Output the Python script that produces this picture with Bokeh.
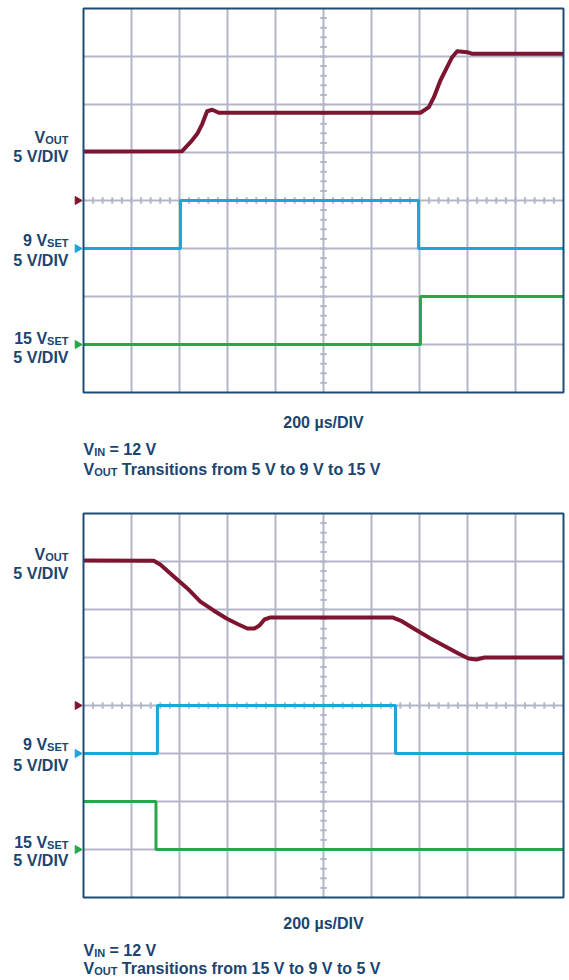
import numpy as np
from bokeh.plotting import figure
from bokeh.layouts import column
from bokeh.models import Range1d
from bokeh.core.properties import value
from bokeh.embed import file_html
from bokeh.resources import INLINE

# ---------------- data (time in µs, voltage in V) ----------------
# Panel 1: VOUT transitions 5 V -> 9 V -> 15 V
top_vout_t = [0, 411, 446, 474, 495, 515, 536, 564, 1396, 1404, 1439, 1460,
              1487, 1515, 1536, 1557, 1599, 1620, 2000]
top_vout_v = [5.1, 5.14, 6.07, 6.95, 7.99, 9.3, 9.45, 9.14, 9.14, 9.14, 9.72,
              10.76, 12.5, 13.9, 14.93, 15.55, 15.45, 15.28, 15.28]
top_9vset_t = [0, 404, 1396, 2000]
top_9vset_v = [0, 5, 0, 0]
top_15vset_t = [0, 1404, 2000]
top_15vset_v = [0, 5, 5]

# Panel 2: VOUT transitions 15 V -> 9 V -> 5 V
bot_vout_t = [0, 293, 321, 376, 432, 487, 542, 596, 646, 683, 712, 733, 754,
              779, 1287, 1321, 1383, 1446, 1508, 1562, 1604, 1637, 1671, 2000]
bot_vout_v = [15.1, 15.07, 14.66, 13.44, 12.22, 10.83, 9.9, 9.06, 8.44, 8.02,
              8.02, 8.33, 8.96, 9.17, 9.17, 8.85, 7.92, 6.98, 6.15, 5.42, 4.9,
              4.79, 5.0, 5.0]
bot_9vset_t = [0, 308, 1300, 2000]
bot_9vset_v = [0, 5, 0, 0]
bot_15vset_t = [0, 302, 2000]
bot_15vset_v = [5, 0, 0]

TIME_PER_DIV = 200      # µs/DIV
VOLT_PER_DIV = 5        # V/DIV
N_XDIV, N_YDIV = 10, 8
# channel ground-marker positions (divisions from bottom of screen)
GND_VOUT, GND_9V, GND_15V = 4, 3, 1

captions_top = ["= 12 V", "Transitions from 5 V to 9 V to 15 V"]
captions_bot = ["= 12 V", "Transitions from 15 V to 9 V to 5 V"]

# ---------------- style ----------------
RED = "#7E1530"
BLUE = "#1CA5D8"
GREEN = "#25A84A"
GRID = "#B3B6C8"
FRAME = "#1E4A73"
TXT = "#1B4470"
FONT = value("Liberation Sans")
FSN = 16
FSSN = 11
FS = f"{FSN}px"
FSS = f"{FSSN}px"

W = 569
FRAME_L = 83          # page px of screen left edge
PXX = 48              # px per horizontal division
PXY = 48              # px per vertical division


def em(s):
    t = {"V": .667, "O": .778, "U": .722, "T": .611, "I": .278, "N": .722,
         "S": .667, "E": .667, " ": .278}
    return sum(t.get(c, .556) for c in s)


def panel(height, fig_top, frame_top, vout_t, vout_v, s9_t, s9_v, s15_t, s15_v,
          lbl, caps, cap_rel):
    x0 = (0 - FRAME_L) / PXX * TIME_PER_DIV
    x1 = (W - FRAME_L) / PXX * TIME_PER_DIV
    ytop = N_YDIV + (frame_top - fig_top) / PXY
    ybot = ytop - height / PXY
    p = figure(width=W, height=height, x_range=Range1d(x0, x1),
               y_range=Range1d(ybot, ytop), output_backend="svg",
               toolbar_location=None, tools="", min_border=0,
               x_axis_location=None, y_axis_location=None)
    p.grid.visible = False
    p.outline_line_color = None
    p.background_fill_color = "white"
    p.border_fill_color = "white"

    tx = lambda px: (px - FRAME_L) / PXX * TIME_PER_DIV
    ty = lambda rel: N_YDIV - rel / PXY
    T = N_XDIV * TIME_PER_DIV

    # grid
    gx = [TIME_PER_DIV * k for k in range(1, N_XDIV)]
    p.segment(x0=gx, y0=[0] * len(gx), x1=gx, y1=[N_YDIV] * len(gx),
              line_color=GRID, line_width=2)
    gy = list(range(1, N_YDIV))
    p.segment(x0=[0] * len(gy), y0=gy, x1=[T] * len(gy), y1=gy,
              line_color=GRID, line_width=2)
    # minor ticks on centre lines
    mx = [TIME_PER_DIV / 5 * k for k in range(1, N_XDIV * 5)]
    hy = 3.2 / PXY
    p.segment(x0=mx, y0=[N_YDIV / 2 - hy] * len(mx), x1=mx,
              y1=[N_YDIV / 2 + hy] * len(mx), line_color=GRID, line_width=2)
    my = [k / 5 for k in range(1, N_YDIV * 5)]
    hx = 3.2 / PXX * TIME_PER_DIV
    p.segment(x0=[T / 2 - hx] * len(my), y0=my, x1=[T / 2 + hx] * len(my),
              y1=my, line_color=GRID, line_width=2)

    # traces
    p.step(x=s15_t, y=[GND_15V + v / VOLT_PER_DIV for v in s15_v], mode="after",
           line_color=GREEN, line_width=3)
    p.step(x=s9_t, y=[GND_9V + v / VOLT_PER_DIV for v in s9_v], mode="after",
           line_color=BLUE, line_width=3)
    p.line(x=vout_t, y=[GND_VOUT + v / VOLT_PER_DIV for v in vout_v],
           line_color=RED, line_width=4, line_join="round")

    # frame
    p.quad(left=[0], right=[T], bottom=[0], top=[N_YDIV], fill_color=None,
           line_color=FRAME, line_width=2)

    # ground markers
    p.scatter(x=[tx(77)] * 3, y=[GND_VOUT, GND_9V, GND_15V],
              color=[RED, BLUE, GREEN], marker="triangle", size=8,
              angle=-np.pi / 2)

    # left labels: (main, sub, rel baseline, rel baseline of 5 V/DIV)
    R = 68
    for main, sub, rb, rb2 in lbl:
        wsub = em(sub) * FSSN
        p.text(x=[tx(R)], y=[ty(rb + 2.5)], text=[sub], text_align="right",
               text_baseline="alphabetic", text_font=FONT, text_font_size=FSS,
               text_font_style="bold", text_color=TXT)
        p.text(x=[tx(R - wsub)], y=[ty(rb)], text=[main], text_align="right",
               text_baseline="alphabetic", text_font=FONT, text_font_size=FS,
               text_font_style="bold", text_color=TXT)
        p.text(x=[tx(R)], y=[ty(rb2)], text=["5 V/DIV"], text_align="right",
               text_baseline="alphabetic", text_font=FONT, text_font_size=FS,
               text_font_style="bold", text_color=TXT)

    # time base label
    p.text(x=[T / 2], y=[ty(cap_rel[0])], text=["200 µs/DIV"], text_align="center",
           text_baseline="alphabetic", text_font=FONT, text_font_size=FS,
           text_font_style="bold", text_color=TXT)

    # captions
    for (sub, rest), rb in zip([("IN", caps[0]), ("OUT", caps[1])], cap_rel[1:]):
        xv = FRAME_L
        p.text(x=[tx(xv)], y=[ty(rb)], text=["V"], text_align="left",
               text_baseline="alphabetic", text_font=FONT, text_font_size=FS,
               text_font_style="bold", text_color=TXT)
        xs = xv + em("V") * FSN
        p.text(x=[tx(xs)], y=[ty(rb + 2.5)], text=[sub], text_align="left",
               text_baseline="alphabetic", text_font=FONT, text_font_size=FSS,
               text_font_style="bold", text_color=TXT)
        xr = xs + em(sub) * FSSN + 4.4
        p.text(x=[tx(xr)], y=[ty(rb)], text=[rest], text_align="left",
               text_baseline="alphabetic", text_font=FONT, text_font_size=FS,
               text_font_style="bold", text_color=TXT)
    return p


lbl_top = [("V", "OUT", 129, 148), ("9 V", "SET", 232, 252), ("15 V", "SET", 330, 349)]
lbl_bot = [("V", "OUT", 40.5, 60), ("9 V", "SET", 231, 252), ("15 V", "SET", 329, 347)]

p1 = panel(500, 0, 8, top_vout_t, top_vout_v, top_9vset_t, top_9vset_v,
           top_15vset_t, top_15vset_v, lbl_top, captions_top, (414, 441, 461))
p2 = panel(480, 500, 513, bot_vout_t, bot_vout_v, bot_9vset_t, bot_9vset_v,
           bot_15vset_t, bot_15vset_v, lbl_bot, captions_bot, (410, 437, 455))

layout = column(p1, p2, spacing=0)
open("out.html", "w").write(file_html(layout, INLINE))
